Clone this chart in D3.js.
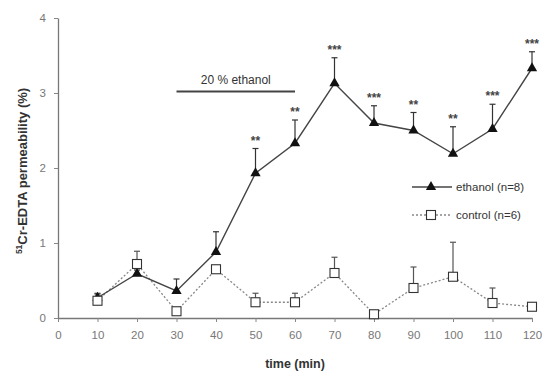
<!DOCTYPE html>
<html>
<head>
    <meta charset="utf-8"/>
    <title>51Cr-EDTA permeability</title>
    <script src="https://d3js.org/d3.v7.min.js"></script>
    <style>
        body { margin: 0; background: #fff; }
        text { font-family: "Liberation Sans", Arial, sans-serif; }
    </style>
</head>
<body>
<div id="chart"></div>
<script>
    const times = [10, 20, 30, 40, 50, 60, 70, 80, 90, 100, 110, 120]
    const ethanolMean = [0.27, 0.59, 0.36, 0.88, 1.93, 2.33, 3.13, 2.6, 2.5, 2.19, 2.52, 3.33]
    const ethanolErr = [0.05, 0.05, 0.16, 0.27, 0.33, 0.31, 0.34, 0.23, 0.24, 0.36, 0.33, 0.22]
    const ethanolStars = ['', '', '', '', '**', '**', '***', '***', '**', '**', '***', '***']
    const controlMean = [0.23, 0.72, 0.09, 0.65, 0.21, 0.21, 0.6, 0.05, 0.4, 0.55, 0.2, 0.15]
    const controlErr = [0.1, 0.17, 0.05, 0.05, 0.12, 0.12, 0.21, 0.0, 0.28, 0.46, 0.2, 0.05]
    const xTicks = [0, 10, 20, 30, 40, 50, 60, 70, 80, 90, 100, 110, 120]
    const yTicks = [0, 1, 2, 3, 4]
    const exposure = [30, 60]

    const W = 545, H = 376
    const margin = { top: 18, right: 13, bottom: 58, left: 58 }
    const width = W - margin.left - margin.right
    const height = H - margin.top - margin.bottom

    const svg = d3.select('#chart').append('svg')
        .attr('width', W).attr('height', H)
    const g = svg.append('g').attr('transform', `translate(${margin.left},${margin.top})`)

    const x = d3.scaleLinear().domain([0, 120]).range([0, width])
    const y = d3.scaleLinear().domain([0, 4]).range([height, 0])

    // axes
    const xAxis = g.append('g')
        .attr('transform', `translate(0,${height})`)
        .call(d3.axisBottom(x).tickValues(xTicks).tickSize(4).tickSizeOuter(0))
    const yAxis = g.append('g')
        .call(d3.axisLeft(y).tickValues(yTicks).tickFormat(d3.format('d')).tickSize(4).tickSizeOuter(0))
    ;[xAxis, yAxis].forEach(a => {
        a.select('.domain').attr('stroke', '#777').attr('stroke-width', 1.3)
        a.selectAll('.tick line').attr('stroke', '#888')
        a.selectAll('.tick text').attr('fill', '#777').style('font-size', '11.5px')
    })
    xAxis.selectAll('.tick text').attr('dy', '1.2em')
    yAxis.selectAll('.tick text').attr('x', -12)

    // axis titles
    svg.append('text')
        .attr('x', margin.left + width / 2).attr('y', 368)
        .attr('text-anchor', 'middle')
        .style('font-size', '12.5px').style('font-weight', 'bold').attr('fill', '#333')
        .text('time (min)')
    const yl = svg.append('text')
        .attr('transform', 'translate(27,171) rotate(-90)')
        .attr('text-anchor', 'middle')
        .style('font-size', '13px').style('font-weight', 'bold').attr('fill', '#333')
    yl.append('tspan').attr('baseline-shift', 'super').style('font-size', '8.5px').text('51')
    yl.append('tspan').text('Cr-EDTA permeability (%)')

    // exposure bar
    g.append('line')
        .attr('x1', x(exposure[0])).attr('x2', x(exposure[1]))
        .attr('y1', y(3.02)).attr('y2', y(3.02))
        .attr('stroke', '#444').attr('stroke-width', 2)
    g.append('text')
        .attr('x', x((exposure[0] + exposure[1]) / 2)).attr('y', y(3.02) - 8)
        .attr('text-anchor', 'middle').style('font-size', '12px').attr('fill', '#333')
        .text('20 % ethanol')

    const line = d3.line().x((d, i) => x(times[i])).y(d => y(d))

    // error bars (up only)
    function errorBars(mean, err, color) {
        mean.forEach((m, i) => {
            if (err[i] <= 0) return
            const cx = x(times[i])
            g.append('line').attr('x1', cx).attr('x2', cx)
                .attr('y1', y(m)).attr('y2', y(m + err[i]))
                .attr('stroke', color).attr('stroke-width', 1.2)
            g.append('line').attr('x1', cx - 3).attr('x2', cx + 3)
                .attr('y1', y(m + err[i])).attr('y2', y(m + err[i]))
                .attr('stroke', color).attr('stroke-width', 1.2)
        })
    }
    errorBars(controlMean, controlErr, '#555')
    errorBars(ethanolMean, ethanolErr, '#333')

    const sq = 9
    const tri = d3.symbol().type(d3.symbolTriangle).size(46)

    // control line
    g.append('path').datum(controlMean)
        .attr('d', line).attr('fill', 'none')
        .attr('stroke', '#888').attr('stroke-width', 1.3).attr('stroke-dasharray', '2,2')

    // ethanol series
    g.append('path').datum(ethanolMean)
        .attr('d', line).attr('fill', 'none')
        .attr('stroke', '#444').attr('stroke-width', 1.4)
    g.selectAll('.eth').data(ethanolMean).enter().append('path')
        .attr('d', tri)
        .attr('transform', (d, i) => `translate(${x(times[i])},${y(d)})`)
        .attr('fill', '#111')

    // control markers on top
    g.selectAll('.ctrl').data(controlMean).enter().append('rect')
        .attr('x', (d, i) => x(times[i]) - sq / 2).attr('y', d => y(d) - sq / 2)
        .attr('width', sq).attr('height', sq)
        .attr('fill', '#fff').attr('stroke', '#333').attr('stroke-width', 1.1)

    // significance stars
    g.selectAll('.star').data(ethanolStars).enter().append('text')
        .attr('x', (d, i) => x(times[i]))
        .attr('y', (d, i) => y(ethanolMean[i] + ethanolErr[i]) - 4)
        .attr('text-anchor', 'middle').style('font-size', '12px').style('font-weight', 'bold')
        .attr('fill', '#444')
        .text(d => d)

    // legend
    const lg = svg.append('g').attr('transform', 'translate(412,187)')
    lg.append('line').attr('x1', 0).attr('x2', 40).attr('y1', 0).attr('y2', 0)
        .attr('stroke', '#444').attr('stroke-width', 1.4)
    lg.append('path').attr('d', tri).attr('transform', 'translate(19,0)').attr('fill', '#111')
    lg.append('text').attr('x', 44).attr('y', 4).style('font-size', '11.5px').attr('fill', '#333')
        .text('ethanol (n=8)')
    lg.append('line').attr('x1', 0).attr('x2', 40).attr('y1', 28).attr('y2', 28)
        .attr('stroke', '#888').attr('stroke-width', 1.3).attr('stroke-dasharray', '2,2')
    lg.append('rect').attr('x', 19 - sq / 2).attr('y', 28 - sq / 2).attr('width', sq).attr('height', sq)
        .attr('fill', '#fff').attr('stroke', '#333').attr('stroke-width', 1.1)
    lg.append('text').attr('x', 44).attr('y', 32).style('font-size', '11.5px').attr('fill', '#333')
        .text('control (n=6)')
</script>
</body>
</html>
